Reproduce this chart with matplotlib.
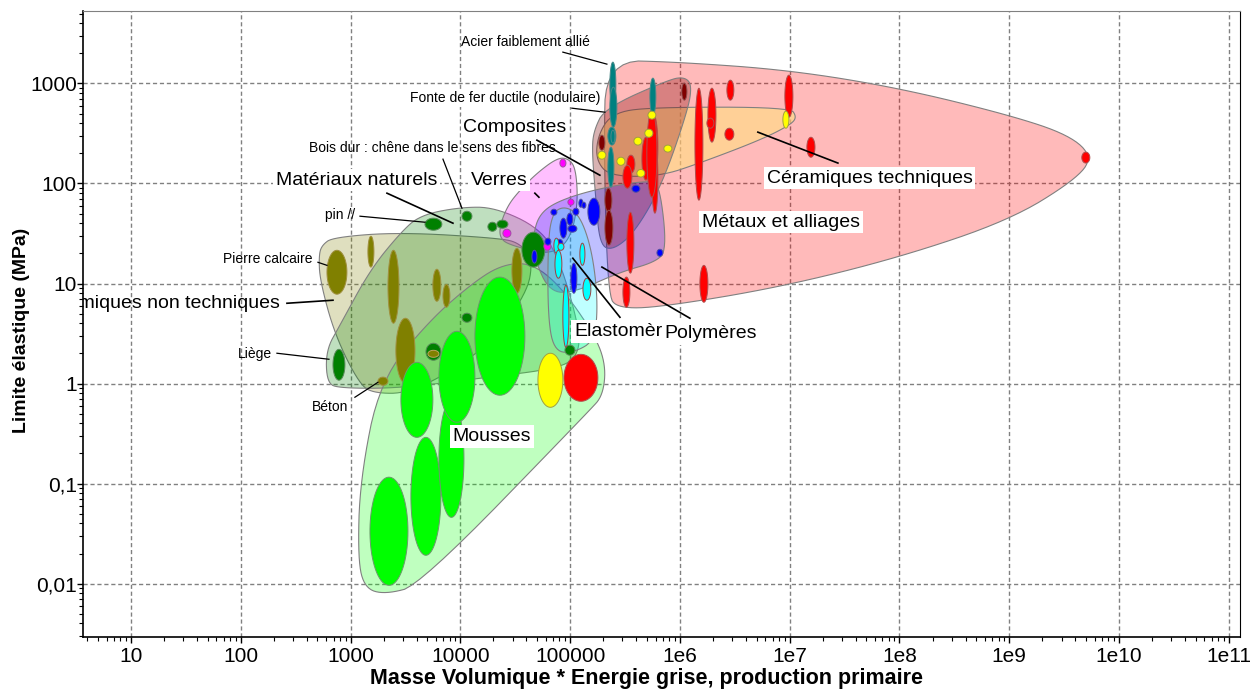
import numpy as np
import matplotlib
matplotlib.use("Agg")
import matplotlib.pyplot as plt
from matplotlib.colors import to_rgba

plt.rcParams['font.family'] = ['Liberation Sans', 'DejaVu Sans']

# --- material bubbles: (x_min, x_max, y_min, y_max) ---
mousses = [(1503, 3334, 0.00962, 0.116), (3548, 6653, 0.0192, 0.290),
           (6383, 10790, 0.046, 0.681), (2877, 5623, 0.290, 1.63),
           (6383, 13580, 0.410, 3.33), (13580, 38730, 0.764, 11.6)]
ceram_nt = [(610, 927, 7.82, 21.5), (1440, 1633, 14.6, 29.7), (2193, 2761, 4.01, 21.5),
            (5623, 6653, 6.65, 13.9), (6950, 8035, 5.79, 9.8), (2588, 3864, 1.01, 4.50),
            (1778, 2193, 0.962, 1.16), (29510, 36390, 8.00, 22.5)]
naturels = [(4764, 6792, 34.1, 45.0), (10350, 12760, 42.0, 52.8), (17830, 21530, 33.3, 41.0),
            (21530, 27160, 35.7, 43.0), (692, 889, 1.08, 2.20), (10350, 12760, 4.10, 5.05),
            (4864, 6653, 1.71, 2.53), (36390, 58880, 14.6, 32.6), (89740, 110700, 1.92, 2.42)]
ceram_nt_top = [(5070, 6383, 1.83, 2.15)]
verres = [(80720, 91620, 146, 175), (95500, 108400, 60.7, 69.7),
          (24430, 28900, 29.0, 34.9), (57680, 66830, 21.5, 25.9)]
polymeres = [(66830, 75860, 48.2, 55.3), (120200, 130900, 57.9, 69.7), (127900, 139300, 56.6, 65.0),
             (105900, 120200, 48.2, 56.6), (93540, 105900, 38.3, 50.5), (80720, 93540, 28.4, 45.0),
             (95500, 115300, 32.6, 38.3), (145200, 186600, 38.3, 71.3), (58880, 66830, 24.2, 28.4),
             (74300, 85900, 23.1, 27.7), (44870, 49890, 16.0, 21.5), (101600, 115300, 8.0, 16.0),
             (365600, 432500, 81.8, 96.2), (618000, 699800, 18.7, 22.0)]
elastomeres = [(71120, 79070, 20.1, 28.4), (77450, 87900, 21.5, 25.3), (72780, 84140, 11.3, 21.5),
               (122700, 136500, 15.2, 25.3), (130900, 154500, 6.81, 11.3), (85900, 97500, 2.31, 9.62)]
ceram_t = [(511700, 604000, 440, 528), (479000, 567500, 290, 349), (381100, 450800, 242, 290),
           (714500, 845300, 206, 242), (266700, 315600, 152, 183), (179100, 211800, 175, 210),
           (405500, 479000, 116, 138), (8.67e6, 9.84e6, 357, 528), (50930, 85900, 0.579, 2.01)]
metaux = [(1.371e6, 1.62e6, 68.1, 897), (1.80e6, 2.13e6, 259, 897), (1.762e6, 2.04e6, 357, 450),
          (2.68e6, 3.10e6, 681, 1079), (2.57e6, 3.10e6, 271, 357), (9.04e6, 1.07e7, 460, 1211),
          (1.435e7, 1.70e7, 183, 290), (1.521e6, 1.80e6, 6.50, 15.2), (4.58e9, 5.42e9, 160, 206),
          (511700, 631000, 108, 505), (450800, 533300, 108, 290), (328900, 389100, 127, 192),
          (302700, 365600, 89.7, 152), (555900, 631000, 50.5, 253), (328900, 381100, 12.7, 51.6),
          (302700, 350600, 5.79, 11.6), (500000, 618000, 72.9, 541), (87900, 179100, 0.665, 1.96)]
composites = [(1.04e6, 1.159e6, 681, 1007), (182800, 207500, 215, 304),
              (207500, 240400, 51.6, 89.7), (207500, 245500, 24.2, 54.1)]
aciers = [(230100, 261200, 579, 1633), (230100, 266700, 366, 918), (220800, 261200, 242, 366),
          (235500, 255900, 253, 341), (220800, 250600, 91.8, 231), (533300, 604000, 482, 1130)]

# --- family envelopes (outline vertices) ---
env_metaux_x = [211800, 1.0e6, 1.005e7, 1.01e8, 1.01e9, 3.56e9, 5.77e9, 3.96e9, 1.01e9,
                1.01e8, 8.15e6, 657700, 272300, 220800, 203200]
env_metaux_y = [1710, 1633, 1358, 897, 482, 304, 183, 108, 43.0, 18.3, 9.18, 5.79, 5.66, 7.64, 215]
env_ceramt_x = [179100, 240400, 533300, 1.005e7, 1.164e7, 1.005e7, 5.36e6, 1.521e6, 657700, 230100, 171800]
env_ceramt_y = [304, 505, 579, 579, 460, 383, 271, 160, 118, 118, 171]
env_compo_x = [164800, 207500, 811000, 1.11e6, 1.285e6, 1.183e6, 685500, 389100, 245500, 186600, 171800, 158100]
env_compo_y = [341, 566, 1104, 1156, 962, 541, 96.2, 32.6, 21.5, 24.2, 68.1, 215]
env_poly_x = [53090, 80720, 186600, 533300, 657700, 762100, 591600, 284400, 110700, 65460, 47750, 45810]
env_poly_y = [50.5, 68.1, 89.7, 108, 94.0, 21.5, 16.3, 13.0, 8.18, 8.18, 17.1, 30.4]
env_elast_x = [69660, 89740, 122700, 158100, 179100, 168300, 110700, 72780, 62800, 62800]
env_elast_y = [51.6, 59.3, 48.2, 21.5, 6.81, 2.71, 2.06, 2.06, 4.30, 27.1]
env_verres_x = [75860, 95500, 113000, 117800, 99540, 65460, 28310, 22960, 22960, 27160, 34910, 49890]
env_verres_y = [179, 179, 142, 60.7, 27.1, 19.2, 24.2, 28.4, 38.3, 60.7, 85.7, 127]
env_nt_x = [550, 692, 2818, 22960, 34910, 45810, 40460, 18620, 8035, 3266, 1667, 1219, 721, 526, 515]
env_nt_y = [24.2, 29.0, 32.6, 28.4, 25.3, 17.1, 8.0, 2.53, 1.30, 0.800, 0.800, 0.962, 3.04, 10.8, 19.2]
env_nat_x = [610, 597, 800, 1503, 2818, 4285, 9910, 20650, 53090, 80720, 122700, 117800, 80720,
             15100, 2818, 800]
env_nat_y = [1.01, 2.15, 3.83, 13.6, 31.8, 48.2, 57.9, 57.9, 35.7, 17.1, 3.41, 1.92, 1.42, 1.13, 0.898, 0.898]
env_mousse_x = [22960, 43050, 80720, 168300, 211800, 199100, 151400, 4285, 2057, 1352, 1167, 1219,
                1853, 5285, 12220]
env_mousse_y = [15.2, 16.3, 9.62, 3.04, 1.52, 0.764, 0.541, 0.00962, 0.00782, 0.00897, 0.0171,
                0.108, 1.08, 4.30, 9.62]


def smooth(xs, ys, n=3):
    p = np.column_stack([np.log10(xs), np.log10(ys)])
    for _ in range(n):
        q = np.roll(p, -1, axis=0)
        a = 0.75 * p + 0.25 * q
        b = 0.25 * p + 0.75 * q
        p = np.empty((2 * len(a), 2))
        p[0::2] = a
        p[1::2] = b
    return 10 ** p[:, 0], 10 ** p[:, 1]


def bubble(ax, rng, color, edge='#7a7a7a', z=3):
    x0, x1, y0, y1 = np.log10(rng)
    t = np.linspace(0, 2 * np.pi, 80)
    xs = 10 ** ((x0 + x1) / 2 + (x1 - x0) / 2 * np.cos(t))
    ys = 10 ** ((y0 + y1) / 2 + (y1 - y0) / 2 * np.sin(t))
    ax.fill(xs, ys, facecolor=color, edgecolor=edge, lw=0.7, zorder=z)


fig = plt.figure(figsize=(12.6, 6.92), dpi=100)
ax = fig.add_axes([0.0659, 0.0795, 0.9181, 0.9045])
ax.set_xscale('log')
ax.set_yscale('log')
ax.set_xlim(3.66, 1.26e11)
ax.set_ylim(0.00293, 5290)

envelopes = [
    (env_metaux_x, env_metaux_y, '#ff0000', 0.27),
    (env_ceramt_x, env_ceramt_y, '#ffe080', 0.6),
    (env_compo_x, env_compo_y, '#800000', 0.3),
    (env_nt_x, env_nt_y, '#808000', 0.25),
    (env_nat_x, env_nat_y, '#008000', 0.25),
    (env_mousse_x, env_mousse_y, '#00ff00', 0.25),
    (env_verres_x, env_verres_y, '#ff00ff', 0.25),
    (env_poly_x, env_poly_y, '#0000ff', 0.25),
    (env_elast_x, env_elast_y, '#00ffff', 0.25),
]
for ex, ey, c, a in envelopes:
    sx, sy = smooth(ex, ey)
    ax.fill(sx, sy, facecolor=to_rgba(c, a), edgecolor='#808080', lw=0.8, zorder=2)

for r in ceram_nt:
    bubble(ax, r, '#808000', edge='#a09040')
for r in naturels:
    bubble(ax, r, '#008000', edge='#5a8a5a')
for r in ceram_nt_top:
    bubble(ax, r, '#808000', edge='#c0a060')
for r in mousses:
    bubble(ax, r, '#00ff00', edge='#6a9a6a')
for r in verres:
    bubble(ax, r, '#ff00ff', edge='#a050a0')
for r in polymeres:
    bubble(ax, r, '#0000ff', edge='#5050a0')
for r in elastomeres:
    bubble(ax, r, '#00ffff', edge='#a04040')
for r in metaux:
    bubble(ax, r, '#ff0000', edge='#b05050')
for r in composites:
    bubble(ax, r, '#800000', edge='#905050')
for r in aciers:
    bubble(ax, r, '#008080', edge='#4a8a8a')
for r in ceram_t:
    bubble(ax, r, '#ffff00', edge='#a0a040', z=3.5)

# --- labels ---
big = dict(fontsize=14, zorder=10, bbox=dict(facecolor='white', edgecolor='none', pad=2))
small = dict(fontsize=10, zorder=10)
lk = dict(color='black', lw=1.2, zorder=9)

ax.text(31400, 366, 'Composites', ha='center', va='center', **big)
ax.plot([49890, 186600], [271, 121], **lk)
ax.text(1143, 108, 'Matériaux naturels', ha='center', va='center', **big)
ax.plot([2147, 8570], [80.0, 40.1], **lk)
ax.text(22490, 108, 'Verres', ha='center', va='center', **big)
ax.plot([47750, 52000], [80.0, 72.9], **lk)
ax.text(5.37e7, 113, 'Céramiques techniques', ha='center', va='center', **big)
ax.plot([5.13e6, 2.75e7], [326, 160], **lk)
ax.text(8.32e6, 41.0, 'Métaux et alliages', ha='center', va='center', **big)
ax.plot([105900, 284400], [17.9, 4.60], **lk)
ax.text(108400, 3.33, 'Elastomères', ha='left', va='center', **big)
ax.plot([195000, 1.233e6], [14.6, 4.50], **lk)
ax.text(729400, 3.18, 'Polymères', ha='left', va='center', **big)
ax.text(19410, 0.297, 'Mousses', ha='center', va='center', **big)
ax.text(227.5, 6.35, 'Céramiques non techniques', ha='right', va='center', fontsize=14,
        zorder=10, clip_on=True)
ax.plot([263.6, 692], [6.35, 6.81], **lk)

ax.text(39550, 2588, 'Acier faiblement allié', ha='center', va='center', **small)
ax.plot([85900, 216300], [2056, 1560], color='black', lw=0.9, zorder=9)
ax.text(25470, 713, 'Fonte de fer ductile (nodulaire)', ha='center', va='center',
        bbox=dict(facecolor='white', edgecolor='none', pad=1.5), **small)
ax.plot([103800, 207500], [566, 516], color='black', lw=0.9, zorder=9)
ax.text(5623, 225, 'Bois dur : chêne dans le sens des fibres', ha='center', va='center', **small)
ax.plot([6950, 10350], [175, 56.6], color='black', lw=0.9, zorder=9)
ax.text(800, 48.2, 'pin //', ha='center', va='center', **small)
ax.plot([1219, 4764], [47.1, 41.0], color='black', lw=0.9, zorder=9)
ax.text(177, 17.5, 'Pierre calcaire', ha='center', va='center', **small)
ax.plot([505, 610], [16.3, 15.2], color='black', lw=0.9, zorder=9)
ax.text(134.7, 1.96, 'Liège', ha='center', va='center', **small)
ax.plot([213.7, 636], [2.01, 1.75], color='black', lw=0.9, zorder=9)
ax.text(649, 0.579, 'Béton', ha='center', va='center', **small)
ax.plot([1096, 1778], [0.730, 1.03], color='black', lw=0.9, zorder=9)

# --- axes cosmetics ---
xt = [10.0 ** k for k in range(1, 12)]
xl = ['10', '100', '1000', '10000', '100000'] + ['1e%d' % k for k in range(6, 12)]
ax.set_xticks(xt)
ax.set_xticklabels(xl)
yt = [0.01, 0.1, 1, 10, 100, 1000]
ax.set_yticks(yt)
ax.set_yticklabels(['0,01', '0,1', '1', '10', '100', '1000'])
ax.xaxis.set_minor_locator(matplotlib.ticker.LogLocator(base=10, subs=np.arange(2, 10), numticks=30))
ax.yaxis.set_minor_locator(matplotlib.ticker.LogLocator(base=10, subs=np.arange(2, 10), numticks=30))
ax.xaxis.set_minor_formatter(matplotlib.ticker.NullFormatter())
ax.yaxis.set_minor_formatter(matplotlib.ticker.NullFormatter())
ax.tick_params(which='major', length=4, width=1, labelsize=15)
ax.tick_params(axis='x', which='major', pad=3)
ax.tick_params(axis='y', which='major', pad=0.5)
ax.tick_params(which='minor', length=3, width=0.8)

ax.set_axisbelow(True)
ax.grid(True, which='major', color='#808080', ls=(0, (3, 2)), lw=1.0)
for s in ['left', 'bottom']:
    ax.spines[s].set_color('black')
    ax.spines[s].set_linewidth(1.2)
ax.spines['top'].set_color('#808080')
ax.spines['right'].set_color('black')

ax.set_xlabel('Masse Volumique * Energie grise, production primaire', fontsize=15.5,
              fontweight='bold')
ax.set_ylabel('Limite élastique (MPa)', fontsize=14, fontweight='bold')
ax.xaxis.set_label_coords(0.487, -0.05)
ax.yaxis.set_label_coords(-0.046, 0.49)

fig.savefig('out.png', dpi=100)
